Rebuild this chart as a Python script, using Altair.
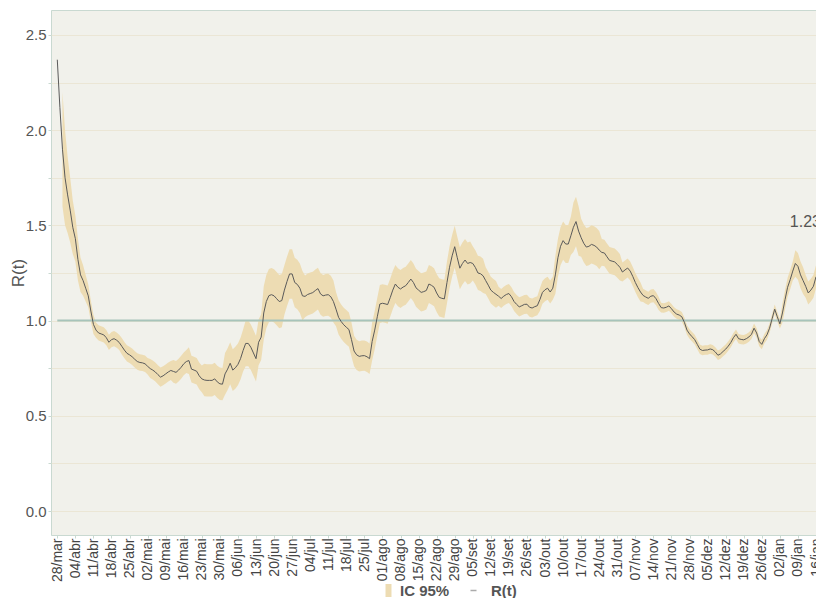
import altair as alt
import pandas as pd

# ---- data ----
start_date = "2020-03-28"

r_values = [
    2.37, 2.12, 1.90, 1.75, 1.66, 1.58, 1.49, 1.43, 1.32, 1.24,
    1.21, 1.17, 1.13, 1.05, 0.98, 0.95, 0.935, 0.93, 0.925, 0.91,
    0.886, 0.90, 0.905, 0.897, 0.885, 0.865, 0.845, 0.828, 0.82, 0.81,
    0.797, 0.785, 0.78, 0.778, 0.773, 0.76, 0.748, 0.74, 0.73, 0.716,
    0.703, 0.71, 0.72, 0.73, 0.738, 0.733, 0.728, 0.74, 0.755, 0.773,
    0.785, 0.79, 0.745, 0.74, 0.734, 0.71, 0.694, 0.688, 0.686, 0.686,
    0.686, 0.694, 0.678, 0.668, 0.666, 0.72, 0.745, 0.776, 0.74, 0.752,
    0.77, 0.80, 0.843, 0.88, 0.88, 0.86, 0.83, 0.80, 0.886, 0.913,
    1.04, 1.10, 1.131, 1.136, 1.13, 1.115, 1.10, 1.105, 1.16, 1.205,
    1.245, 1.245, 1.20, 1.19, 1.17, 1.13, 1.127, 1.137, 1.142, 1.147,
    1.158, 1.168, 1.14, 1.13, 1.134, 1.136, 1.125, 1.10, 1.06, 1.017,
    0.995, 0.978, 0.965, 0.953, 0.90, 0.84, 0.82, 0.812, 0.815, 0.816,
    0.81, 0.80, 0.89, 0.95, 1.02, 1.087, 1.091, 1.088, 1.084, 1.12,
    1.16, 1.192, 1.175, 1.166, 1.176, 1.183, 1.20, 1.218, 1.20, 1.172,
    1.16, 1.148, 1.152, 1.158, 1.192, 1.185, 1.175, 1.145, 1.122, 1.117,
    1.114, 1.20, 1.28, 1.34, 1.388, 1.33, 1.275, 1.30, 1.318, 1.30,
    1.305, 1.30, 1.279, 1.25, 1.246, 1.235, 1.21, 1.186, 1.16, 1.148,
    1.138, 1.128, 1.116, 1.128, 1.137, 1.142, 1.125, 1.10, 1.085, 1.072,
    1.078, 1.085, 1.086, 1.07, 1.066, 1.073, 1.078, 1.11, 1.148, 1.162,
    1.17, 1.15, 1.17, 1.24, 1.33, 1.39, 1.42, 1.402, 1.402, 1.445,
    1.49, 1.52, 1.47, 1.435, 1.406, 1.386, 1.39, 1.40, 1.395, 1.386,
    1.37, 1.358, 1.355, 1.335, 1.316, 1.312, 1.308, 1.295, 1.28, 1.255,
    1.266, 1.276, 1.26, 1.232, 1.20, 1.173, 1.15, 1.132, 1.124, 1.117,
    1.128, 1.131, 1.115, 1.09, 1.068, 1.066, 1.07, 1.077, 1.062, 1.045,
    1.034, 1.029, 1.02, 0.991, 0.95, 0.93, 0.915, 0.90, 0.875, 0.85,
    0.843, 0.845, 0.846, 0.851, 0.847, 0.835, 0.818, 0.825, 0.838, 0.85,
    0.866, 0.885, 0.91, 0.928, 0.905, 0.901, 0.899, 0.905, 0.914, 0.928,
    0.96, 0.935, 0.89, 0.875, 0.905, 0.925, 0.96, 1.01, 1.06, 1.02,
    0.983, 1.04, 1.11, 1.175, 1.215, 1.26, 1.30, 1.285, 1.24, 1.21,
    1.18, 1.145, 1.16, 1.18, 1.23,
]

# half width of the 95% interval, as runs of (number of days, half width)
ic_half_runs = [
    (2, None), (1, 0.30), (1, 0.25), (1, 0.20), (1, 0.17), (1, 0.14),
    (1, 0.12), (1, 0.11), (1, 0.09), (1, 0.08), (1, 0.07), (1, 0.06),
    (1, 0.055), (1, 0.05), (10, 0.04), (11, 0.043), (9, 0.05), (6, 0.06),
    (6, 0.07), (8, 0.085), (8, 0.11), (7, 0.12), (8, 0.14), (8, 0.13),
    (12, 0.11), (7, 0.09), (7, 0.08), (8, 0.10), (21, 0.10), (10, 0.11),
    (5, 0.09), (5, 0.07), (16, 0.05), (6, 0.06), (7, 0.10), (3, 0.13),
    (8, 0.10), (8, 0.07), (8, 0.05), (7, 0.035), (47, 0.025), (5, 0.05),
    (4, 0.07), (5, 0.06),
]

pt_months = ["jan", "fev", "mar", "abr", "mai", "jun",
             "jul", "ago", "set", "out", "nov", "dez"]

tick_dates = pd.date_range("2020-03-28", "2021-01-16", freq="7D")
y_grid = [0.0, 0.25, 0.5, 0.75, 1.0, 1.25, 1.5, 1.75, 2.0, 2.25, 2.5]
ref_level = 1.0

# ---- build tables ----
dates = pd.date_range(start_date, periods=len(r_values), freq="D")
half = []
for n, h in ic_half_runs:
    half.extend([h] * n)
half = half[: len(r_values)]

ms = [int(d.timestamp() * 1000) for d in dates]
df = pd.DataFrame({
    "date": ms,
    "r": r_values,
    "lo": [None if h is None else r - h for r, h in zip(r_values, half)],
    "hi": [None if h is None else r + h for r, h in zip(r_values, half)],
})
df_rule = pd.DataFrame({"date": [ms[0]], "end": [ms[-1]], "r": [ref_level]})
df_last = df.tail(1)

tick_ms = [int(t.timestamp() * 1000) for t in tick_dates]
month_js = "[" + ",".join("'%s'" % m for m in pt_months) + "]"

FONT = "Liberation Sans"
GRID = "#ebe6d5"
EDGE = "#c9d9d1"

x_scale = alt.Scale(
    type="utc",
    domain=[alt.DateTime(year=2020, month=3, date=25, hours=13, minutes=27, utc=True),
            alt.DateTime(year=2021, month=1, date=16, hours=0, utc=True)],
)
y_scale = alt.Scale(domain=[-0.126, 2.631], nice=False, zero=False)

x_axis = alt.Axis(
    values=tick_ms,
    labelExpr="utcFormat(datum.value, '%d') + '/' + " + month_js + "[utcmonth(datum.value)]",
    labelAngle=-90, labelFontSize=14, labelColor="#444", labelFont=FONT,
    tickSize=3, tickColor=EDGE, labelPadding=0, domain=False, grid=False,
    title=None, labelOverlap=False, labelSeparation=0, labelFlush=False,
    labelBound=False,
)
y_axis = alt.Axis(
    values=y_grid,
    labelExpr="datum.value % 0.5 == 0 ? format(datum.value, '.1f') : ''",
    labelFontSize=15, labelColor="#555", labelFont=FONT, labelPadding=2,
    tickSize=3, tickColor=EDGE, gridColor=GRID, gridWidth=1, domain=False,
    title="R(t)", titleFontSize=17, titleFontWeight="normal", titleColor="#555",
    titleFont=FONT, titlePadding=-2,
)

X = alt.X("date:T", scale=x_scale, axis=x_axis)

band = alt.Chart(df).transform_calculate(serie="'IC 95%'").mark_area(
    clip=True, opacity=1
).encode(
    x=X,
    y=alt.Y("lo:Q", scale=y_scale, axis=y_axis),
    y2="hi:Q",
    fill=alt.Fill("serie:N",
                  scale=alt.Scale(domain=["IC 95%"], range=["#eddcb3"]),
                  legend=alt.Legend(title=None, orient="none", legendX=330, legendY=573,
                                    padding=0, symbolType="M-0.46,-1H0.46V1H-0.46Z",
                                    symbolSize=169, symbolStrokeWidth=0, labelFontSize=15,
                                    labelFontWeight="bold", labelColor="#555",
                                    labelFont=FONT, labelOffset=4)),
)

rule = alt.Chart(df_rule).mark_rule(color="#a7c4ba", strokeWidth=2, clip=True).encode(
    x=X,
    x2="end:T",
    y=alt.Y("r:Q", scale=y_scale, axis=y_axis),
)

line = alt.Chart(df).transform_calculate(serie="'R(t)'").mark_line(
    strokeWidth=1, clip=True
).encode(
    x=X,
    y=alt.Y("r:Q", scale=y_scale, axis=y_axis),
    stroke=alt.Stroke("serie:N",
                      scale=alt.Scale(domain=["R(t)"], range=["#5a5a5a"]),
                      legend=alt.Legend(title=None, orient="none", legendX=415, legendY=573,
                                        padding=0, symbolType="stroke", symbolSize=36,
                                        symbolStrokeWidth=1.5, symbolOpacity=0.5,
                                        labelFontSize=15, labelFontWeight="bold",
                                        labelColor="#555", labelFont=FONT,
                                        labelOffset=10)),
)

label = alt.Chart(df_last).mark_text(
    align="right", baseline="middle", dx=5, dy=-55, fontSize=16,
    color="#555", font=FONT
).encode(
    x=X,
    y=alt.Y("r:Q", scale=y_scale, axis=y_axis),
    text=alt.Text("r:Q", format=".2f"),
)

chart = alt.layer(band, rule, line, label).resolve_scale(
    fill="independent", stroke="independent"
).properties(
    width=765, height=525,
    padding={"left": 43, "top": 2, "right": 0, "bottom": 63},
    autosize=alt.AutoSizeParams(type="none"),
    background="white",
).configure_view(fill="#f1f1eb", stroke=EDGE, strokeWidth=1)

chart.save("out.html", embed_options={"renderer": "svg", "actions": False})
